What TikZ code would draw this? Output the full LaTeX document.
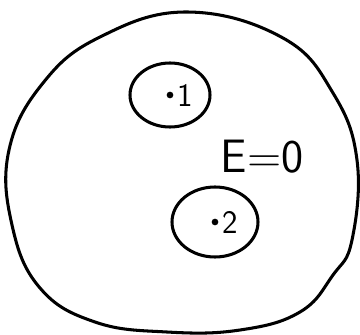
\documentclass[tikz,border=0pt]{standalone}
\usepackage{tikz}
\usetikzlibrary{positioning, shapes.geometric}
\tikzset{
  bubble/.style={draw, ellipse, line width=2.6pt},
  charge/.style={circle, fill, inner sep=0pt, minimum size=0.2cm},
  digit/.style={font=\sffamily\fontsize{28}{28}\selectfont, inner sep=0pt}
}

\begin{document}
\begin{tikzpicture}[x=0.03cm, y=-0.03cm]
        \useasboundingbox (0,0) rectangle (360,335);
        % outer surface
        \draw[line width=2.6pt] plot[smooth cycle, tension=0.7] coordinates {(187,12) (283,38) (333,93) (357,160) (352,240) (333,275) (300,312) (240,330) (167,332) (95,322) (40,288) (12,225) (9,150) (43,83) (100,37)};
        \node[bubble, minimum width=2.4cm, minimum height=1.92cm] (ring1) at (170,95) {};
        \node[bubble, minimum width=2.58cm, minimum height=2.1cm] (ring2) at (215,222) {};
        \node[charge] (q1) at (ring1.center) {};
        \node[digit, right=0.12cm of q1] (n1) {1};
        \node[charge] (q2) at (ring2.center) {};
        \node[digit, right=0.12cm of q2] (n2) {2};
        \node[font=\sffamily\fontsize{40}{40}\selectfont] (field) at (262,157) {E=0};
      \end{tikzpicture}
\end{document}
